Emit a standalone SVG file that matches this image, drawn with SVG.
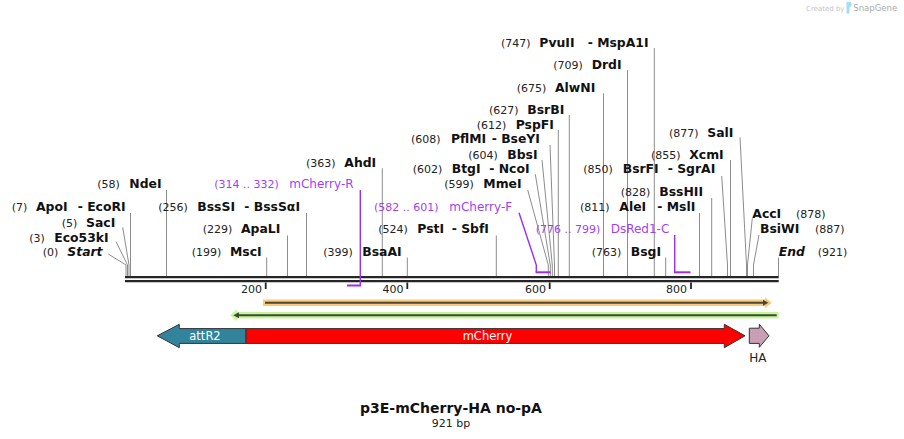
<svg xmlns="http://www.w3.org/2000/svg" width="904" height="439" viewBox="0 0 904 439">
<style>
text{font-family:"DejaVu Sans","Liberation Sans",sans-serif}
.n{font-size:11px;fill:#222}
.e{font-size:12.4px;font-weight:bold;fill:#111}
.i{font-style:italic}
.p{font-size:11px;fill:#a33ff0}
.pn{font-size:12px;fill:#a33ff0}
.l{stroke:#8c8c8c;stroke-width:1;fill:none}
.pl{stroke:#9d2ef0;fill:none}
.bb{stroke:#262626;stroke-width:2.3}
.tk{stroke:#222;stroke-width:1.8}
.ft{stroke:#333;stroke-width:1}
.fl{font-size:11.5px;fill:#fff}
</style>
<rect width="904" height="439" fill="#fff"/>
<g id="watermark">
<text x="806" y="10.5" style="font-size:7px;fill:#c4c4c4">Created by</text>
<path d="M846.5,2 L851,2 Q852.5,4 851,6.5 L849.5,7.5 L849.5,13.5 L846.5,13.5 Z" fill="#a6dcf5"/>
<text x="853.3" y="11" style="font-size:8.5px;fill:#aaaaaa">SnapGene</text>
</g>
<g id="backbone">
<line class="bb" x1="125" y1="277.2" x2="778.7" y2="277.2"/>
<line class="bb" x1="125" y1="281.2" x2="778.7" y2="281.2"/>
<line class="tk" x1="265.7" y1="282.5" x2="265.7" y2="289"/>
<line class="tk" x1="407.3" y1="282.5" x2="407.3" y2="289"/>
<line class="tk" x1="549.7" y1="282.5" x2="549.7" y2="289"/>
<line class="tk" x1="691" y1="282.5" x2="691" y2="289"/>
<text class="n" x="262" y="293" text-anchor="end">200</text>
<text class="n" x="403.5" y="293" text-anchor="end">400</text>
<text class="n" x="546" y="293" text-anchor="end">600</text>
<text class="n" x="687" y="293" text-anchor="end">800</text>
</g>
<g id="connectors">
<polyline class="l" points="108.3,254 126,265 126,276"/>
<polyline class="l" points="116,241.7 127.5,265 127.5,276"/>
<polyline class="l" points="122.7,227.3 129,265 129,276"/>
<line class="l" x1="130.5" y1="213" x2="130.5" y2="276"/>
<line class="l" x1="166.5" y1="190" x2="166.5" y2="276"/>
<line class="l" x1="266.7" y1="257.5" x2="266.7" y2="276"/>
<line class="l" x1="287.5" y1="235.5" x2="287.5" y2="276"/>
<line class="l" x1="306.5" y1="213" x2="306.5" y2="276"/>
<line class="l" x1="382.3" y1="168.3" x2="382.3" y2="276"/>
<line class="l" x1="407.3" y1="257.5" x2="407.3" y2="276"/>
<line class="l" x1="496.3" y1="235.5" x2="496.3" y2="276"/>
<polyline class="l" points="527.7,190 548.3,265 548.3,276"/>
<polyline class="l" points="535.3,174.3 550.3,265 550.3,276"/>
<polyline class="l" points="542,160 552.3,265 552.3,276"/>
<polyline class="l" points="550,145 554.5,265 554.5,276"/>
<line class="l" x1="558.3" y1="130" x2="558.3" y2="276"/>
<line class="l" x1="569.3" y1="115" x2="569.3" y2="276"/>
<line class="l" x1="603.5" y1="93.3" x2="603.5" y2="276"/>
<line class="l" x1="627.5" y1="70" x2="627.5" y2="276"/>
<line class="l" x1="654.3" y1="48" x2="654.3" y2="276"/>
<line class="l" x1="665.7" y1="257.5" x2="665.7" y2="276"/>
<line class="l" x1="699.5" y1="213" x2="699.5" y2="276"/>
<line class="l" x1="711.7" y1="198" x2="711.7" y2="276"/>
<polyline class="l" points="721.7,176 727.5,265 727.5,276"/>
<line class="l" x1="730.5" y1="160" x2="730.5" y2="276"/>
<polyline class="l" points="740,137.3 746.5,265 746.5,276"/>
<polyline class="l" points="752.3,218.3 747.5,265 747.5,276"/>
<polyline class="l" points="759,235 753.5,265 753.5,276"/>
<line class="l" x1="778.5" y1="257.5" x2="778.5" y2="276"/>
<polyline class="pl" stroke-width="1.4" points="360.3,190 360.3,285.5"/>
<line class="pl" stroke-width="2" x1="347" y1="285.5" x2="361" y2="285.5"/>
<polyline class="pl" stroke-width="1.4" points="519,212.7 536.3,265 536.3,272.3"/>
<line class="pl" stroke-width="2" x1="535.6" y1="272.3" x2="550.5" y2="272.3"/>
<polyline class="pl" stroke-width="1.4" points="674.7,235 674.7,272.3"/>
<line class="pl" stroke-width="2" x1="674" y1="272.3" x2="690.5" y2="272.3"/>
</g>
<g id="label-start"><text class="n" x="42.7" y="256">(0)</text><text class="e i" x="67.3" y="256">Start</text></g>
<g id="label-eco53ki"><text class="n" x="29.3" y="242">(3)</text><text class="e" x="54.3" y="242">Eco53kI</text></g>
<g id="label-saci"><text class="n" x="61.7" y="226.5">(5)</text><text class="e" x="86" y="226.5">SacI</text></g>
<g id="label-apoi"><text class="n" x="11.7" y="211">(7)</text><text class="e" x="36" y="211">ApoI</text><text class="e" x="77.7" y="211">- EcoRI</text></g>
<g id="label-ndei"><text class="n" x="97.3" y="188.3">(58)</text><text class="e" x="129.3" y="188.3">NdeI</text></g>
<g id="label-bsssi"><text class="n" x="158.3" y="211">(256)</text><text class="e" x="197.3" y="211">BssSI</text><text class="e" x="244.3" y="211">- BssSαI</text></g>
<g id="label-apali"><text class="n" x="202.7" y="233.3">(229)</text><text class="e" x="241" y="233.3">ApaLI</text></g>
<g id="label-msci"><text class="n" x="191.7" y="256">(199)</text><text class="e" x="230" y="256">MscI</text></g>
<g id="primer-mcherry-r"><text class="p" x="214.3" y="188.3">(314 .. 332)</text><text class="pn" x="289.3" y="188.3">mCherry-R</text></g>
<g id="label-ahdi"><text class="n" x="306" y="166.5">(363)</text><text class="e" x="344.3" y="166.5">AhdI</text></g>
<g id="label-bsaai"><text class="n" x="323.3" y="256">(399)</text><text class="e" x="362.3" y="256">BsaAI</text></g>
<g id="label-psti"><text class="n" x="378.3" y="233.3">(524)</text><text class="e" x="417.3" y="233.3">PstI</text><text class="e" x="451.7" y="233.3">- SbfI</text></g>
<g id="primer-mcherry-f"><text class="p" x="374" y="211">(582 .. 601)</text><text class="pn" x="449.3" y="211">mCherry-F</text></g>
<g id="label-mmei"><text class="n" x="444.3" y="188.3">(599)</text><text class="e" x="483.3" y="188.3">MmeI</text></g>
<g id="label-btgi"><text class="n" x="412.7" y="172.5">(602)</text><text class="e" x="451.7" y="172.5">BtgI</text><text class="e" x="489.3" y="172.5">- NcoI</text></g>
<g id="label-bbsi"><text class="n" x="468.3" y="158.5">(604)</text><text class="e" x="507.3" y="158.5">BbsI</text></g>
<g id="label-pflmi"><text class="n" x="411" y="143.3">(608)</text><text class="e" x="451" y="143.3">PflMI</text><text class="e" x="491.7" y="143.3">- BseYI</text></g>
<g id="label-pspfi"><text class="n" x="476.7" y="128.5">(612)</text><text class="e" x="515.7" y="128.5">PspFI</text></g>
<g id="label-bsrbi"><text class="n" x="489" y="113.5">(627)</text><text class="e" x="527.3" y="113.5">BsrBI</text></g>
<g id="label-alwni"><text class="n" x="516.7" y="91.5">(675)</text><text class="e" x="555" y="91.5">AlwNI</text></g>
<g id="label-drdi"><text class="n" x="553.3" y="69.3">(709)</text><text class="e" x="591.7" y="69.3">DrdI</text></g>
<g id="label-pvuii"><text class="n" x="501" y="46.5">(747)</text><text class="e" x="539.3" y="46.5">PvuII</text><text class="e" x="587.7" y="46.5">- MspA1I</text></g>
<g id="primer-dsred1-c"><text class="p" x="535.7" y="233.3">(776 .. 799)</text><text class="pn" x="610.7" y="233.3">DsRed1-C</text></g>
<g id="label-bsgi"><text class="n" x="591.7" y="256">(763)</text><text class="e" x="630.7" y="256">BsgI</text></g>
<g id="label-alei"><text class="n" x="580" y="211">(811)</text><text class="e" x="619.3" y="211">AleI</text><text class="e" x="657.3" y="211">- MslI</text></g>
<g id="label-bsshii"><text class="n" x="620.7" y="196">(828)</text><text class="e" x="659.3" y="196">BssHII</text></g>
<g id="label-bsrfi"><text class="n" x="583.3" y="172.5">(850)</text><text class="e" x="622.7" y="172.5">BsrFI</text><text class="e" x="667.7" y="172.5">- SgrAI</text></g>
<g id="label-xcmi"><text class="n" x="651" y="158.5">(855)</text><text class="e" x="689.3" y="158.5">XcmI</text></g>
<g id="label-sali"><text class="n" x="669" y="136.5">(877)</text><text class="e" x="707.3" y="136.5">SalI</text></g>
<g id="label-acci"><text class="e" x="752.3" y="217.5">AccI</text><text class="n" x="796" y="217.5">(878)</text></g>
<g id="label-bsiwi"><text class="e" x="760" y="233.3">BsiWI</text><text class="n" x="815" y="233.3">(887)</text></g>
<g id="label-end"><text class="e i" x="778.7" y="256">End</text><text class="n" x="817.7" y="256">(921)</text></g>
<g id="orf-forward">
<polygon points="263,299.5 765,299.5 765,297.3 771.8,302.8 765,308.3 765,306 263,306" fill="#f9c97c"/>
<line x1="265" y1="302.8" x2="764" y2="302.8" stroke="#4a4636" stroke-width="2"/>
<polygon points="763,299.8 768.4,302.8 763,305.8" fill="#4a4636"/>
</g>
<g id="orf-reverse">
<polygon points="778.7,312 237,312 237,309.5 230,315.2 237,320.9 237,318.4 778.7,318.4" fill="#c6f59c"/>
<line x1="238" y1="315.2" x2="776.7" y2="315.2" stroke="#3d4a36" stroke-width="2"/>
<polygon points="239,312.2 233.3,315.2 239,318.2" fill="#3d4a36"/>
</g>
<g id="feature-attR2">
<polygon class="ft" points="157.3,335.8 179.3,324.3 179.3,328.6 246,328.6 246,343.4 179.3,343.4 179.3,347.7" fill="#31849b"/>
<text class="fl" x="205" y="340" text-anchor="middle">attR2</text>
</g>
<g id="feature-mCherry">
<polygon class="ft" points="246,328.6 724.3,328.6 724.3,324.3 745,335.8 724.3,347.7 724.3,343.4 246,343.4" fill="#ff0000"/>
<text class="fl" x="487.5" y="340" text-anchor="middle">mCherry</text>
</g>
<g id="feature-HA">
<polygon class="ft" points="749.3,328.2 759.3,328.2 759.3,324.3 769,335.8 759.3,347.3 759.3,343.4 749.3,343.4" fill="#c99fb6"/>
<text x="757.8" y="361.5" text-anchor="middle" style="font-size:12px;fill:#222">HA</text>
</g>
<g id="title">
<text x="451" y="413" text-anchor="middle" style="font-size:14px;font-weight:bold;fill:#111">p3E-mCherry-HA no-pA</text>
<text x="451" y="427" text-anchor="middle" style="font-size:11px;fill:#222">921 bp</text>
</g>
</svg>
